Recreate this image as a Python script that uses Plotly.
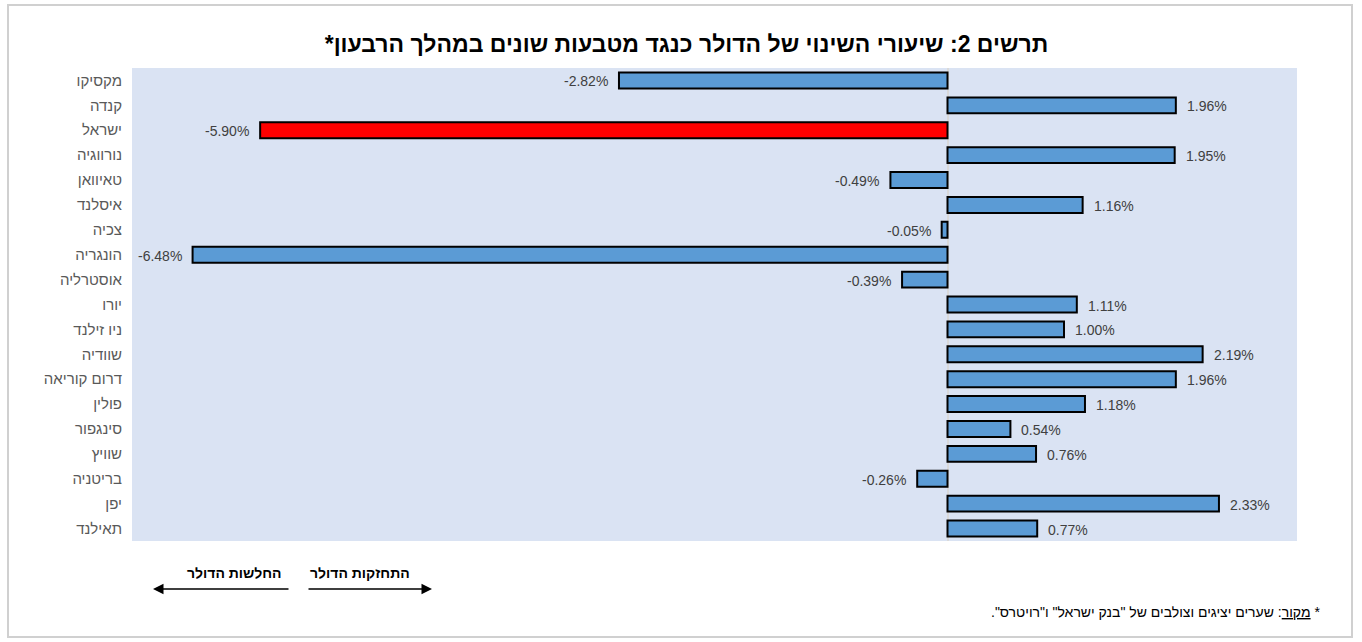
import plotly.graph_objects as go

countries = ["מקסיקו", "קנדה", "ישראל", "נורווגיה", "טאיוואן", "איסלנד", "צכיה", "הונגריה",
             "אוסטרליה", "יורו", "ניו זילנד", "שוודיה", "דרום קוריאה", "פולין", "סינגפור",
             "שוויץ", "בריטניה", "יפן", "תאילנד"]
changes = [-2.82, 1.96, -5.90, 1.95, -0.49, 1.16, -0.05, -6.48, -0.39, 1.11, 1.00,
           2.19, 1.96, 1.18, 0.54, 0.76, -0.26, 2.33, 0.77]
highlight = "ישראל"

title_text = "תרשים 2: שיעורי השינוי של הדולר כנגד מטבעות שונים במהלך הרבעון*"
source_text = '* <u>מקור</u>: שערים יציגים וצולבים של "בנק ישראל" ו"רויטרס".'
weak_text = "החלשות הדולר"
strong_text = "התחזקות הדולר"

RLM = "\u200f"
W, H = 1362, 642
ML, MR, MT, MB = 132, 65, 68, 101
PW, PH = W - ML - MR, H - MT - MB


def px(x):
    return (x - ML) / PW


def py(y):
    return (H - MB - y) / PH


colors = ["#FF0000" if c == highlight else "#5B9BD5" for c in countries]

fig = go.Figure(go.Bar(
    x=changes, y=countries, orientation="h",
    marker=dict(color=colors, line=dict(color="#000000", width=2)),
    hoverinfo="skip",
))

# data labels next to bar ends
for c, v in zip(countries, changes):
    fig.add_annotation(x=v, y=c, xref="x", yref="y", text=f"{v:.2f}%", showarrow=False,
                       xanchor="left" if v >= 0 else "right",
                       xshift=9 if v >= 0 else -9, yshift=-1,
                       font=dict(family="Liberation Sans", size=14, color="#404040"))

fig.update_layout(
    width=W, height=H,
    margin=dict(l=ML, r=MR, t=MT, b=MB),
    paper_bgcolor="white", plot_bgcolor="#DAE3F3",
    bargap=0.36, showlegend=False,
    font=dict(family="Liberation Sans"),
    title=dict(text=RLM + title_text + RLM, x=0.504, xanchor="center",
               y=1 - 44 / H, yanchor="middle", yref="container",
               font=dict(family="Liberation Sans", size=23, color="#000000", weight="bold")),
    xaxis=dict(range=[-7, 3], showticklabels=False, showgrid=False, ticks="",
               zeroline=True, zerolinecolor="#D9D9D9", zerolinewidth=2, fixedrange=True),
    yaxis=dict(categoryorder="array", categoryarray=countries, autorange="reversed",
               showgrid=False, ticks="", ticklabelstandoff=9, fixedrange=True,
               tickfont=dict(family="Liberation Sans", size=15, color="#595959")),
)

# outer border
fig.add_shape(type="rect", xref="paper", yref="paper",
              x0=px(8), x1=px(1352), y0=py(5), y1=py(637),
              line=dict(color="#D0D0D0", width=2), fillcolor="rgba(0,0,0,0)", layer="below")

# direction arrows
fig.add_annotation(xref="paper", yref="paper", x=px(153), y=py(589), ax=137, ay=0,
                   showarrow=True, arrowhead=2, arrowsize=1.4, arrowwidth=1.5,
                   arrowcolor="#000000", text="")
fig.add_annotation(xref="paper", yref="paper", x=px(432), y=py(589), ax=-125, ay=0,
                   showarrow=True, arrowhead=2, arrowsize=1.4, arrowwidth=1.5,
                   arrowcolor="#000000", text="")
fig.add_annotation(xref="paper", yref="paper", x=px(234), y=py(573), showarrow=False,
                   text="<b>" + RLM + weak_text + RLM + "</b>", xanchor="center", yanchor="middle",
                   font=dict(family="Liberation Sans", size=14, color="#000000"))
fig.add_annotation(xref="paper", yref="paper", x=px(360), y=py(573), showarrow=False,
                   text="<b>" + RLM + strong_text + RLM + "</b>", xanchor="center", yanchor="middle",
                   font=dict(family="Liberation Sans", size=14, color="#000000"))

# source note
fig.add_annotation(xref="paper", yref="paper", x=px(1322), y=py(612), showarrow=False,
                   text=RLM + source_text + RLM, xanchor="right", yanchor="middle",
                   font=dict(family="Liberation Sans", size=14, color="#000000"))

fig.write_html("out.html", config={"displayModeBar": False},
               post_script="document.body.style.margin='0';document.body.style.overflow='hidden';")
